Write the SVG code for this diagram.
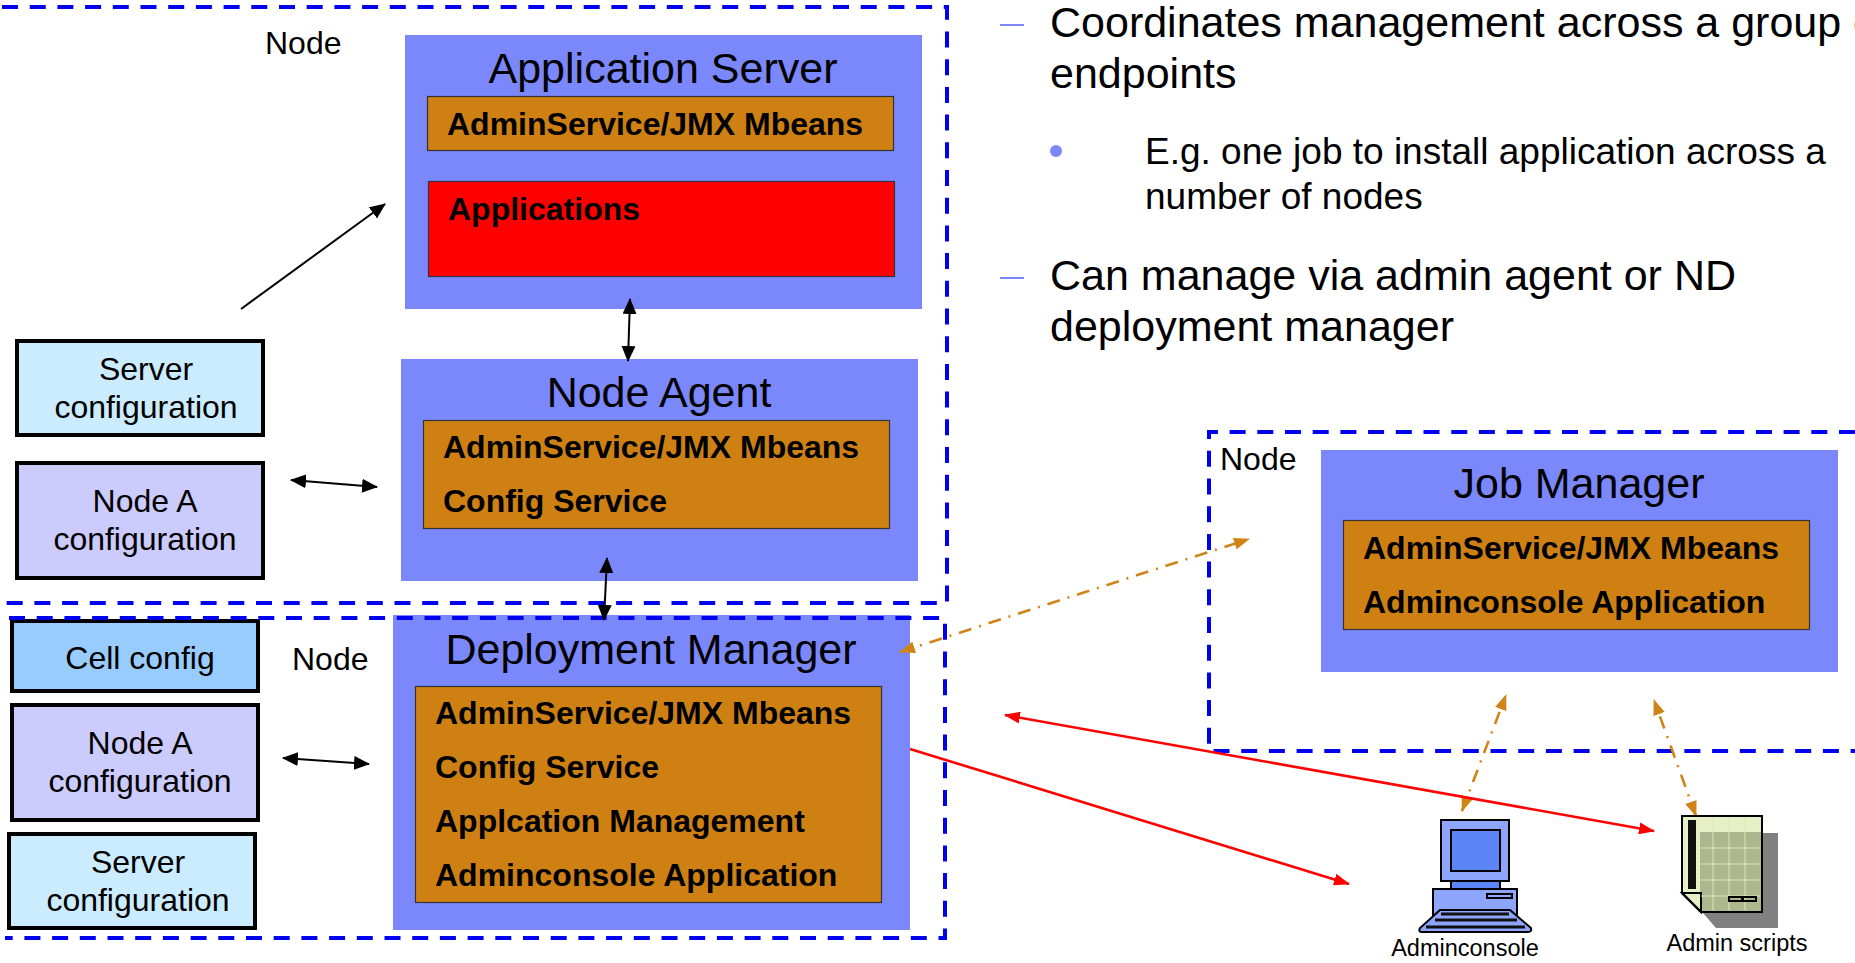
<svg xmlns="http://www.w3.org/2000/svg" width="1855" height="963" viewBox="0 0 1855 963">
<style>
text{font-family:"Liberation Sans",Arial,sans-serif;fill:#000}
.blue{fill:#7b88fb}
.or{fill:#cf8013;stroke:#333;stroke-width:1.2}
.t{font-size:43px;text-anchor:middle}
.b{font-size:32px;font-weight:bold}
.n{font-size:32px}
.c{font-size:32px;text-anchor:middle}
.cfg{stroke:#000;stroke-width:4}
.dash{fill:none;stroke:#0000f0;stroke-width:4;stroke-dasharray:16 11.7}
.bl{fill:none;stroke:#000;stroke-width:2}
.r{fill:none;stroke:#f00;stroke-width:2.6}
.o{fill:none;stroke:#d08417;stroke-width:2.6;stroke-dasharray:13 8 2 8}
.bt{font-size:43px}
.st{font-size:37px}
.sm{font-size:23.5px}
.g{fill:none;stroke:#dfe8b0;stroke-width:1}
.k{stroke:#000;stroke-width:2}
</style>
<defs>
<marker id="ab" viewBox="0 0 16 14" refX="15" refY="7" markerWidth="16" markerHeight="14" markerUnits="userSpaceOnUse" orient="auto-start-reverse"><path d="M0 0L16 7L0 14Z" fill="#000"/></marker>
<marker id="ar" viewBox="0 0 16 12" refX="15" refY="6" markerWidth="16" markerHeight="12" markerUnits="userSpaceOnUse" orient="auto-start-reverse"><path d="M0 0L16 6L0 12Z" fill="#f00"/></marker>
<marker id="ao" viewBox="0 0 16 12" refX="15" refY="6" markerWidth="16" markerHeight="12" markerUnits="userSpaceOnUse" orient="auto-start-reverse"><path d="M0 0L16 6L0 12Z" fill="#d08417"/></marker>
</defs>
<g id="app-server"><rect class="blue" x="405" y="35" width="517" height="274"/><text class="t" x="663" y="83">Application Server</text><rect class="or" x="427.500" y="96.500" width="466" height="54"/><text class="b" x="447" y="135">AdminService/JMX Mbeans</text><rect x="428.500" y="181.500" width="466" height="95" fill="#f00" stroke="#333" stroke-width="1.200"/><text class="b" x="448" y="220">Applications</text></g>
<g id="node-agent"><rect class="blue" x="401" y="359" width="517" height="222"/><text class="t" x="659" y="407">Node Agent</text><rect class="or" x="423.500" y="420.500" width="466" height="108"/><text class="b" x="443" y="458">AdminService/JMX Mbeans</text><text class="b" x="443" y="512">Config Service</text></g>
<g id="deployment-manager"><rect class="blue" x="393" y="615" width="517" height="315"/><text class="t" x="651" y="664">Deployment Manager</text><rect class="or" x="415.500" y="686.500" width="466" height="216"/><text class="b" x="435" y="724">AdminService/JMX Mbeans</text><text class="b" x="435" y="778">Config Service</text><text class="b" x="435" y="832">Applcation Management</text><text class="b" x="435" y="886">Adminconsole Application</text></g>
<g id="job-manager"><rect class="blue" x="1321" y="450" width="517" height="222"/><text class="t" x="1579" y="498">Job Manager</text><rect class="or" x="1343.500" y="520.500" width="466" height="109"/><text class="b" x="1363" y="559">AdminService/JMX Mbeans</text><text class="b" x="1363" y="613">Adminconsole Application</text></g>
<g id="server-config-a"><rect class="cfg" x="17" y="341" width="246" height="94" fill="#cbecff"/><text class="c" x="146" y="380">Server</text><text class="c" x="146" y="418">configuration</text></g>
<g id="node-a-config-a"><rect class="cfg" x="17" y="463" width="246" height="115" fill="#cccbfe"/><text class="c" x="145" y="512">Node A</text><text class="c" x="145" y="550">configuration</text></g>
<g id="cell-config"><rect class="cfg" x="12" y="621" width="246" height="70" fill="#99ccfe"/><text class="c" x="140" y="669">Cell config</text></g>
<g id="node-a-config-b"><rect class="cfg" x="12" y="705" width="246" height="115" fill="#cccbfe"/><text class="c" x="140" y="754">Node A</text><text class="c" x="140" y="792">configuration</text></g>
<g id="server-config-b"><rect class="cfg" x="9" y="834" width="246" height="94" fill="#cbecff"/><text class="c" x="138" y="873">Server</text><text class="c" x="138" y="911">configuration</text></g>
<g id="boundaries"><path class="dash" d="M2 7H947V603H2"/><path class="dash" d="M9 618H945V938H5"/><path class="dash" d="M1855 432H1209V751H1855"/></g>
<g id="node-labels"><text class="n" x="265" y="54">Node</text><text class="n" x="292" y="670">Node</text><text class="n" x="1220" y="470">Node</text></g>
<g id="connectors">
<path class="bl" d="M241 309L385 204" marker-end="url(#ab)"/>
<path class="bl" d="M630 299L628 361" marker-start="url(#ab)" marker-end="url(#ab)"/>
<path class="bl" d="M291 480L377 487" marker-start="url(#ab)" marker-end="url(#ab)"/>
<path class="bl" d="M607 558L604 620" marker-start="url(#ab)" marker-end="url(#ab)"/>
<path class="bl" d="M283 758L369 764" marker-start="url(#ab)" marker-end="url(#ab)"/>
<path class="o" d="M900 652L1249 539" marker-start="url(#ao)" marker-end="url(#ao)"/>
<path class="o" d="M1462 811L1506 695" marker-start="url(#ao)" marker-end="url(#ao)"/>
<path class="o" d="M1696 816L1654 700" marker-start="url(#ao)" marker-end="url(#ao)"/>
<path class="r" d="M1005 715L1654 831" marker-start="url(#ar)" marker-end="url(#ar)"/>
<path class="r" d="M910 749L1349 884" marker-end="url(#ar)"/>
</g>
<g id="bullets">
<rect x="1000" y="24" width="24" height="2" fill="#7b88fb"/><rect x="1000" y="277" width="24" height="2" fill="#7b88fb"/><ellipse cx="1056" cy="151" rx="6" ry="6" fill="#7b88fb"/>
<text class="bt" x="1050" y="37">Coordinates management across a group of</text><text class="bt" x="1050" y="88">endpoints</text>
<text class="st" x="1145" y="164">E.g. one job to install application across a</text><text class="st" x="1145" y="209">number of nodes</text>
<text class="bt" x="1050" y="290">Can manage via admin agent or ND</text><text class="bt" x="1050" y="341">deployment manager</text>
</g>
<g id="adminconsole">
<rect x="1441" y="820" width="68" height="61" fill="#8da5fb" class="k"/><rect x="1451" y="830" width="49" height="41" fill="#5c85f7" class="k"/><rect x="1451" y="881" width="49" height="8" fill="#5c85f7" class="k"/><rect x="1433" y="889" width="84" height="35" fill="#8da5fb" class="k"/><rect x="1487" y="894" width="25" height="4" fill="#8da5fb" class="k"/><path d="M1440 910H1510L1531 928Q1532 932 1528 932H1422Q1418 932 1420 928Z" fill="#8da5fb" class="k"/><path d="M1441 914H1509M1435 920H1517M1426 927H1525" stroke="#111" stroke-width="3"/>
<text class="sm" x="1465" y="956" text-anchor="middle">Adminconsole</text></g>
<g id="admin-scripts">
<path d="M1703 913L1716 928H1778V833H1762V913Z" fill="#808080"/><path d="M1682 816H1762V912H1701L1682 893Z" fill="#aeb68f" class="k"/><path d="M1683 817H1761V832H1700V893H1683Z" fill="#e6efc5"/><path d="M1682 893H1701V912Z" fill="#e6efc5" class="k"/><path class="g" d="M1713 817V911M1729 817V911M1745 817V911M1701 848H1761M1701 864H1761M1701 880H1761M1701 896H1761"/><path d="M1682 816H1762V912H1701L1682 893Z" fill="none" class="k"/><rect x="1688" y="820" width="8" height="69" fill="#111"/><rect x="1729" y="897" width="13" height="4" fill="none" class="k"/><rect x="1743" y="897" width="13" height="4" fill="none" class="k"/>
<text class="sm" x="1737" y="951" text-anchor="middle">Admin scripts</text></g>
</svg>
